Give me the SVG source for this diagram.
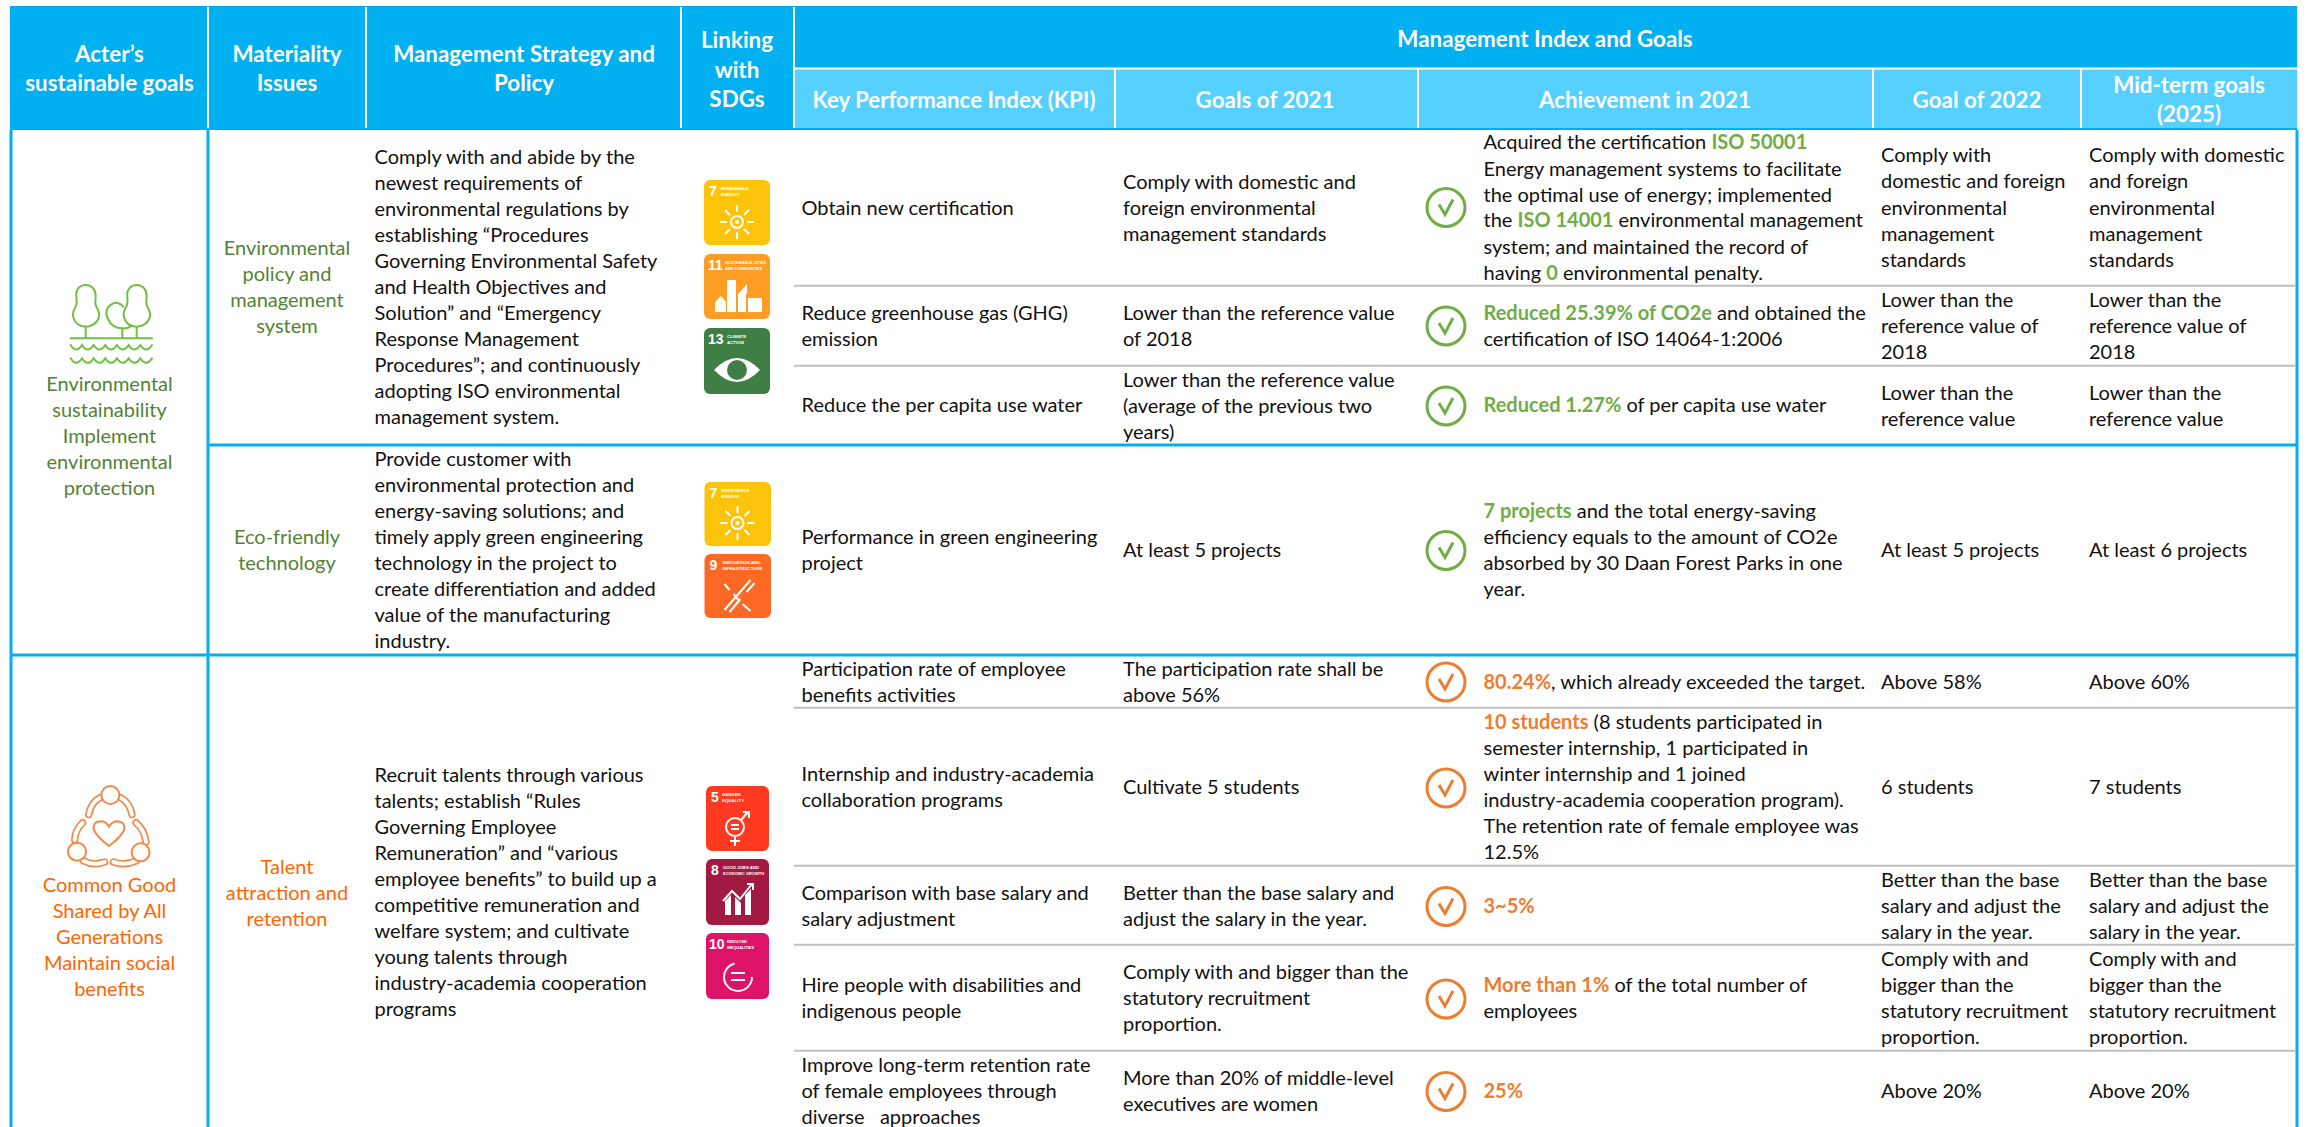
<svg xmlns="http://www.w3.org/2000/svg" width="2306" height="1127" viewBox="0 0 2306 1127">
<style>
text{font-family:"Lato","Carlito","Liberation Sans",sans-serif;font-size:20px;fill:#111}
.h{font-size:22.4px;font-weight:700;fill:#fff;text-anchor:middle}
.c{text-anchor:middle}
.gt{fill:#548235}
.ot{fill:#FF6600}
.g{fill:#70AD47;font-weight:700}
.o{fill:#ED7D31;font-weight:700}
.blue{stroke:#00B0F0;stroke-width:3;fill:none}
.white{stroke:#fff;stroke-width:2;fill:none}
.gray{stroke:#BFBFBF;stroke-width:2;fill:none}
.cg{fill:none;stroke:#70AD47;stroke-width:3}
.co{fill:none;stroke:#ED7D31;stroke-width:3}
.sn{font-family:"Liberation Sans",sans-serif;font-size:14px;font-weight:700;fill:#fff}
.st{font-family:"Liberation Sans",sans-serif;font-size:4.4px;font-weight:700;fill:#fff}
.ic{fill:none;stroke:#fff;stroke-width:2}
.if{fill:#fff}
</style>
<defs>
<g id="checkG"><circle class="cg" r="19"/><path class="cg" d="M-7-3L-1 7L7-8"/></g>
<g id="checkO"><circle class="co" r="19"/><path class="co" d="M-7-3L-1 7L7-8"/></g>
<g id="sun"><circle class="ic" r="6"/><circle class="if" r="2"/><path class="ic" stroke-width="1.6" d="M0-10V-17M0 10V17M-10 0H-17M10 0H17M-7-7L-12-12M7-7L12-12M-7 7L-12 12M7 7L12 12"/></g>
</defs>

<g id="header">
<rect x="10" y="6" width="2287" height="124" fill="#00B0F0"/>
<rect x="794" y="69" width="1503" height="59" fill="#55D0FF"/>
<path class="white" d="M208 7V128M366 7V128M681 7V128M794 7V128M794 68.500H2297M1115 69V128M1418 69V128M1873 69V128M2081 69V128"/>
<text class="h"><tspan x="109.500" y="62">Acter’s</tspan><tspan x="109.500" y="91">sustainable goals</tspan></text>
<text class="h"><tspan x="287" y="62">Materiality</tspan><tspan x="287" y="91">Issues</tspan></text>
<text class="h"><tspan x="524" y="62">Management Strategy and</tspan><tspan x="524" y="91">Policy</tspan></text>
<text class="h"><tspan x="737" y="48">Linking</tspan><tspan x="737" y="77.500">with</tspan><tspan x="737" y="107">SDGs</tspan></text>
<text class="h" x="1545" y="47">Management Index and Goals</text>
<text class="h" x="954" y="108" textLength="283" lengthAdjust="spacingAndGlyphs">Key Performance Index (KPI)</text>
<text class="h" x="1265" y="108">Goals of 2021</text>
<text class="h" x="1645" y="108">Achievement in 2021</text>
<text class="h" x="1977" y="108">Goal of 2022</text>
<text class="h"><tspan x="2189" y="93">Mid-term goals</tspan><tspan x="2189" y="122">(2025)</tspan></text>
</g>

<g id="grid">
<path class="blue" d="M11 130V1127M208 130V1127M2297 130V1127M208 445H2297M11 655H2297"/>
<path class="gray" d="M794 285.700H2296M794 365.700H2296M794 707.700H2296M794 865.700H2296M794 944.700H2296M794 1050.700H2296"/>
</g>

<g id="goal-environment">
<g transform="translate(40 260) scale(.3333)" fill="none" stroke="#72BF44" stroke-width="6" stroke-linecap="round">
<path d="M137 75C118 75 106 90 109 110C110 122 112 128 108 138C100 150 97 160 100 172C105 190 120 200 137 200C155 200 172 190 177 170C179 160 174 148 168 138C164 128 166 120 167 110C168 90 156 75 137 75Z"/>
<path d="M290 75C271 75 259 90 262 110C263 122 264 128 260 138C252 150 249 160 252 172C257 190 272 200 290 200C308 200 325 190 330 170C332 160 327 148 321 138C317 128 319 120 320 110C321 90 309 75 290 75Z"/>
<path d="M250 140C242 130 225 122 212 135C198 142 195 165 205 178C210 195 228 205 247 205C258 206 268 203 276 197"/>
<path d="M137 200V235M247 205V235M290 200V235M92 235H336"/>
<path d="M92 255Q109 282 126 255Q143 282 161 255Q178 282 196 255Q213 282 231 255Q248 282 266 255Q283 282 301 255Q318 282 336 255"/>
<path d="M92 295Q109 322 126 295Q143 322 161 295Q178 322 196 295Q213 322 231 295Q248 322 266 295Q283 322 301 295Q318 322 336 295"/>
</g>
<text class="c gt"><tspan x="109.500" y="391">Environmental</tspan><tspan x="109.500" y="417">sustainability</tspan><tspan x="109.500" y="443">Implement</tspan><tspan x="109.500" y="469">environmental</tspan><tspan x="109.500" y="495">protection</tspan></text>
</g>

<g id="goal-social">
<g transform="translate(40 770) scale(.3333)" fill="none" stroke-linecap="round">
<g stroke="#F0894A" stroke-width="22"><path d="M182 82Q152 98 146 134M240 82Q270 98 276 134M128 158Q106 178 104 210M288 158Q314 180 318 216M130 272Q160 288 194 276M220 276Q256 288 290 272"/></g>
<g stroke="#fff" stroke-width="12"><path d="M182 82Q152 98 146 134M240 82Q270 98 276 134M128 158Q106 178 104 210M288 158Q314 180 318 216M130 272Q160 288 194 276M220 276Q256 288 290 272"/></g>
<g fill="#fff" stroke="#F0894A" stroke-width="6"><circle cx="211" cy="75" r="27"/><circle cx="111" cy="245" r="27"/><circle cx="302" cy="247" r="27"/>
<path d="M207 228Q168 198 161 178Q158 156 181 154Q198 154 207 170Q216 154 233 154Q256 156 253 178Q246 198 207 228Z"/></g>
</g>
<text class="c ot"><tspan x="109.500" y="892">Common Good</tspan><tspan x="109.500" y="918">Shared by All</tspan><tspan x="109.500" y="944">Generations</tspan><tspan x="109.500" y="970">Maintain social</tspan><tspan x="109.500" y="996">benefits</tspan></text>
</g>

<g id="issues">
<text class="c gt"><tspan x="287" y="255">Environmental</tspan><tspan x="287" y="281">policy and</tspan><tspan x="287" y="307">management</tspan><tspan x="287" y="333">system</tspan></text>
<text class="c gt"><tspan x="287" y="544">Eco-friendly</tspan><tspan x="287" y="570">technology</tspan></text>
<text class="c ot"><tspan x="287" y="874">Talent</tspan><tspan x="287" y="900">attraction and</tspan><tspan x="287" y="926">retention</tspan></text>
</g>

<g id="strategy">
<text><tspan x="374.500" y="164">Comply with and abide by the</tspan><tspan x="374.500" y="190">newest requirements of</tspan><tspan x="374.500" y="216">environmental regulations by</tspan><tspan x="374.500" y="242">establishing “Procedures</tspan><tspan x="374.500" y="268">Governing Environmental Safety</tspan><tspan x="374.500" y="294">and Health Objectives and</tspan><tspan x="374.500" y="320">Solution” and “Emergency</tspan><tspan x="374.500" y="346">Response Management</tspan><tspan x="374.500" y="372">Procedures”; and continuously</tspan><tspan x="374.500" y="398">adopting ISO environmental</tspan><tspan x="374.500" y="424">management system.</tspan></text>
<text><tspan x="374.500" y="466">Provide customer with</tspan><tspan x="374.500" y="492">environmental protection and</tspan><tspan x="374.500" y="518">energy-saving solutions; and</tspan><tspan x="374.500" y="544">timely apply green engineering</tspan><tspan x="374.500" y="570">technology in the project to</tspan><tspan x="374.500" y="596">create differentiation and added</tspan><tspan x="374.500" y="622">value of the manufacturing</tspan><tspan x="374.500" y="648">industry.</tspan></text>
<text><tspan x="374.500" y="782">Recruit talents through various</tspan><tspan x="374.500" y="808">talents; establish “Rules</tspan><tspan x="374.500" y="834">Governing Employee</tspan><tspan x="374.500" y="860">Remuneration” and “various</tspan><tspan x="374.500" y="886">employee benefits” to build up a</tspan><tspan x="374.500" y="912">competitive remuneration and</tspan><tspan x="374.500" y="938">welfare system; and cultivate</tspan><tspan x="374.500" y="964">young talents through</tspan><tspan x="374.500" y="990">industry-academia cooperation</tspan><tspan x="374.500" y="1016">programs</tspan></text>
</g>

<g id="sdgs">
<g id="sdg7a" transform="translate(704 180)"><rect width="66" height="65" rx="6" fill="#FCC30B"/><text class="sn" x="5" y="16">7</text><text class="st"><tspan x="17" y="10">RENEWABLE</tspan><tspan x="17" y="16">ENERGY</tspan></text><use href="#sun" x="33" y="42"/></g>
<g id="sdg11" transform="translate(704 254)"><rect width="66" height="65" rx="6" fill="#FD9D24"/><text class="sn" x="4" y="16">11</text><text class="st"><tspan x="21" y="10" textLength="41" lengthAdjust="spacingAndGlyphs">SUSTAINABLE CITIES</tspan><tspan x="21" y="16" textLength="37" lengthAdjust="spacingAndGlyphs">AND COMMUNITIES</tspan></text><g class="if"><rect x="23" y="26" width="9" height="32"/><rect x="34" y="40" width="8" height="18"/><path d="M34 40L43 30V40Z"/><rect x="44" y="44" width="14" height="14"/><path d="M11 58V48L17 42L22 48V58Z"/></g></g>
<g id="sdg13" transform="translate(704 328)"><rect width="66" height="66" rx="6" fill="#3F7E44"/><text class="sn" x="4" y="16">13</text><text class="st"><tspan x="23" y="10">CLIMATE</tspan><tspan x="23" y="16">ACTION</tspan></text><path class="if" d="M10 42Q33 18 56 42Q33 66 10 42Z"/><circle cx="33" cy="42" r="10" fill="#3F7E44"/></g>
<g id="sdg7b" transform="translate(704.500 482)"><rect width="66.500" height="64" rx="6" fill="#FCC30B"/><text class="sn" x="5" y="16">7</text><text class="st"><tspan x="17" y="10">RENEWABLE</tspan><tspan x="17" y="16">ENERGY</tspan></text><use href="#sun" x="33" y="41"/></g>
<g id="sdg9" transform="translate(704.500 554)"><rect width="66.500" height="64" rx="6" fill="#FD6925"/><text class="sn" x="5" y="16">9</text><text class="st"><tspan x="18" y="10" textLength="38" lengthAdjust="spacingAndGlyphs">INNOVATION AND</tspan><tspan x="18" y="16" textLength="40" lengthAdjust="spacingAndGlyphs">INFRASTRUCTURE</tspan></text><path class="ic" d="M20 56L46 26M25 58L36 45M42 38L50 29M20 30L25 36M29 40L34 46M38 50L46 57" stroke-width="2.400"/></g>
<g id="sdg5" transform="translate(706 786)"><rect width="63" height="65" rx="6" fill="#FF3A21"/><text class="sn" x="5" y="16">5</text><text class="st"><tspan x="16" y="10">GENDER</tspan><tspan x="16" y="16">EQUALITY</tspan></text><circle class="ic" cx="29" cy="41" r="9" stroke-width="2.400"/><path class="ic" d="M35 34L42 26M37 26H43V32M29 50V60M24 55H34M25 39H33M25 43H33" stroke-width="2.400"/></g>
<g id="sdg8" transform="translate(706 859)"><rect width="63" height="66" rx="6" fill="#A21942"/><text class="sn" x="5" y="16">8</text><text class="st"><tspan x="17" y="10" textLength="36" lengthAdjust="spacingAndGlyphs">GOOD JOBS AND</tspan><tspan x="17" y="16" textLength="41" lengthAdjust="spacingAndGlyphs">ECONOMIC GROWTH</tspan></text><g class="if"><path d="M19 56V42L25 36V56ZM29 56V38L35 44V56ZM39 56V36L45 30V56Z"/></g><path class="ic" d="M17 42L26 32L34 40L46 25M41 25H47V31" stroke-width="1.800"/></g>
<g id="sdg10" transform="translate(706 933)"><rect width="63" height="66" rx="6" fill="#DD1367"/><text class="sn" x="3" y="16">10</text><text class="st"><tspan x="21" y="10" textLength="20" lengthAdjust="spacingAndGlyphs">REDUCED</tspan><tspan x="21" y="16" textLength="27" lengthAdjust="spacingAndGlyphs">INEQUALITIES</tspan></text><circle class="ic" cx="32" cy="44" r="14" stroke-dasharray="62 26"/><path class="ic" d="M25 40H39M25 47H39" stroke-width="3"/></g>
</g>

<g id="kpi">
<text x="801.500" y="215">Obtain new certification</text>
<text><tspan x="801.500" y="320">Reduce greenhouse gas (GHG)</tspan><tspan x="801.500" y="346">emission</tspan></text>
<text x="801.500" y="412">Reduce the per capita use water</text>
<text><tspan x="801.500" y="544">Performance in green engineering</tspan><tspan x="801.500" y="570">project</tspan></text>
<text><tspan x="801.500" y="676">Participation rate of employee</tspan><tspan x="801.500" y="702">benefits activities</tspan></text>
<text><tspan x="801.500" y="781">Internship and industry-academia</tspan><tspan x="801.500" y="807">collaboration programs</tspan></text>
<text><tspan x="801.500" y="900">Comparison with base salary and</tspan><tspan x="801.500" y="926">salary adjustment</tspan></text>
<text><tspan x="801.500" y="992">Hire people with disabilities and</tspan><tspan x="801.500" y="1018">indigenous people</tspan></text>
<text xml:space="preserve"><tspan x="801.500" y="1072">Improve long-term retention rate</tspan><tspan x="801.500" y="1098">of female employees through</tspan><tspan x="801.500" y="1124">diverse   approaches</tspan></text>
</g>

<g id="goals2021">
<text><tspan x="1123" y="189">Comply with domestic and</tspan><tspan x="1123" y="215">foreign environmental</tspan><tspan x="1123" y="241">management standards</tspan></text>
<text><tspan x="1123" y="320">Lower than the reference value</tspan><tspan x="1123" y="346">of 2018</tspan></text>
<text><tspan x="1123" y="387">Lower than the reference value</tspan><tspan x="1123" y="413">(average of the previous two</tspan><tspan x="1123" y="439">years)</tspan></text>
<text x="1123" y="557">At least 5 projects</text>
<text><tspan x="1123" y="676">The participation rate shall be</tspan><tspan x="1123" y="702">above 56%</tspan></text>
<text x="1123" y="794">Cultivate 5 students</text>
<text><tspan x="1123" y="900">Better than the base salary and</tspan><tspan x="1123" y="926">adjust the salary in the year.</tspan></text>
<text><tspan x="1123" y="979">Comply with and bigger than the</tspan><tspan x="1123" y="1005">statutory recruitment</tspan><tspan x="1123" y="1031">proportion.</tspan></text>
<text><tspan x="1123" y="1085">More than 20% of middle-level</tspan><tspan x="1123" y="1111">executives are women</tspan></text>
</g>

<g id="checks">
<use href="#checkG" x="1446" y="207.500"/>
<use href="#checkG" x="1446" y="326"/>
<use href="#checkG" x="1446" y="406"/>
<use href="#checkG" x="1446" y="550.500"/>
<use href="#checkO" x="1446" y="682"/>
<use href="#checkO" x="1446" y="788"/>
<use href="#checkO" x="1446" y="906.500"/>
<use href="#checkO" x="1446" y="999"/>
<use href="#checkO" x="1446" y="1091.500"/>
</g>

<g id="achievement">
<text><tspan x="1483.500" y="149">Acquired the certification <tspan class="g">ISO 50001</tspan></tspan><tspan x="1483.500" y="176">Energy management systems to facilitate</tspan><tspan x="1483.500" y="202">the optimal use of energy; implemented</tspan><tspan x="1483.500" y="227">the <tspan class="g">ISO 14001</tspan> environmental management</tspan><tspan x="1483.500" y="254">system; and maintained the record of</tspan><tspan x="1483.500" y="280">having <tspan class="g">0</tspan> environmental penalty.</tspan></text>
<text><tspan x="1483.500" y="320"><tspan class="g">Reduced 25.39% of CO2e</tspan> and obtained the</tspan><tspan x="1483.500" y="346">certification of ISO 14064-1:2006</tspan></text>
<text x="1483.500" y="412"><tspan class="g">Reduced 1.27%</tspan> of per capita use water</text>
<text><tspan x="1483.500" y="518"><tspan class="g">7 projects</tspan> and the total energy-saving</tspan><tspan x="1483.500" y="544">efficiency equals to the amount of CO2e</tspan><tspan x="1483.500" y="570">absorbed by 30 Daan Forest Parks in one</tspan><tspan x="1483.500" y="596">year.</tspan></text>
<text x="1483.500" y="689"><tspan class="o">80.24%</tspan>, which already exceeded the target.</text>
<text><tspan x="1483.500" y="729"><tspan class="o">10 students</tspan> (8 students participated in</tspan><tspan x="1483.500" y="755">semester internship, 1 participated in</tspan><tspan x="1483.500" y="781">winter internship and 1 joined</tspan><tspan x="1483.500" y="807">industry-academia cooperation program).</tspan><tspan x="1483.500" y="833">The retention rate of female employee was</tspan><tspan x="1483.500" y="859">12.5%</tspan></text>
<text class="o" x="1483.500" y="913">3~5%</text>
<text><tspan x="1483.500" y="992"><tspan class="o">More than 1%</tspan> of the total number of</tspan><tspan x="1483.500" y="1018">employees</tspan></text>
<text class="o" x="1483.500" y="1098">25%</text>
</g>

<g id="goal2022">
<text><tspan x="1881" y="162">Comply with</tspan><tspan x="1881" y="188">domestic and foreign</tspan><tspan x="1881" y="215">environmental</tspan><tspan x="1881" y="241">management</tspan><tspan x="1881" y="267">standards</tspan></text>
<text><tspan x="1881" y="307">Lower than the</tspan><tspan x="1881" y="333">reference value of</tspan><tspan x="1881" y="359">2018</tspan></text>
<text><tspan x="1881" y="400">Lower than the</tspan><tspan x="1881" y="426">reference value</tspan></text>
<text x="1881" y="557">At least 5 projects</text>
<text x="1881" y="689">Above 58%</text>
<text x="1881" y="794">6 students</text>
<text><tspan x="1881" y="887">Better than the base</tspan><tspan x="1881" y="913">salary and adjust the</tspan><tspan x="1881" y="939">salary in the year.</tspan></text>
<text><tspan x="1881" y="966">Comply with and</tspan><tspan x="1881" y="992">bigger than the</tspan><tspan x="1881" y="1018">statutory recruitment</tspan><tspan x="1881" y="1044">proportion.</tspan></text>
<text x="1881" y="1098">Above 20%</text>
</g>

<g id="midterm">
<text><tspan x="2089" y="162">Comply with domestic</tspan><tspan x="2089" y="188">and foreign</tspan><tspan x="2089" y="215">environmental</tspan><tspan x="2089" y="241">management</tspan><tspan x="2089" y="267">standards</tspan></text>
<text><tspan x="2089" y="307">Lower than the</tspan><tspan x="2089" y="333">reference value of</tspan><tspan x="2089" y="359">2018</tspan></text>
<text><tspan x="2089" y="400">Lower than the</tspan><tspan x="2089" y="426">reference value</tspan></text>
<text x="2089" y="557">At least 6 projects</text>
<text x="2089" y="689">Above 60%</text>
<text x="2089" y="794">7 students</text>
<text><tspan x="2089" y="887">Better than the base</tspan><tspan x="2089" y="913">salary and adjust the</tspan><tspan x="2089" y="939">salary in the year.</tspan></text>
<text><tspan x="2089" y="966">Comply with and</tspan><tspan x="2089" y="992">bigger than the</tspan><tspan x="2089" y="1018">statutory recruitment</tspan><tspan x="2089" y="1044">proportion.</tspan></text>
<text x="2089" y="1098">Above 20%</text>
</g>
</svg>
